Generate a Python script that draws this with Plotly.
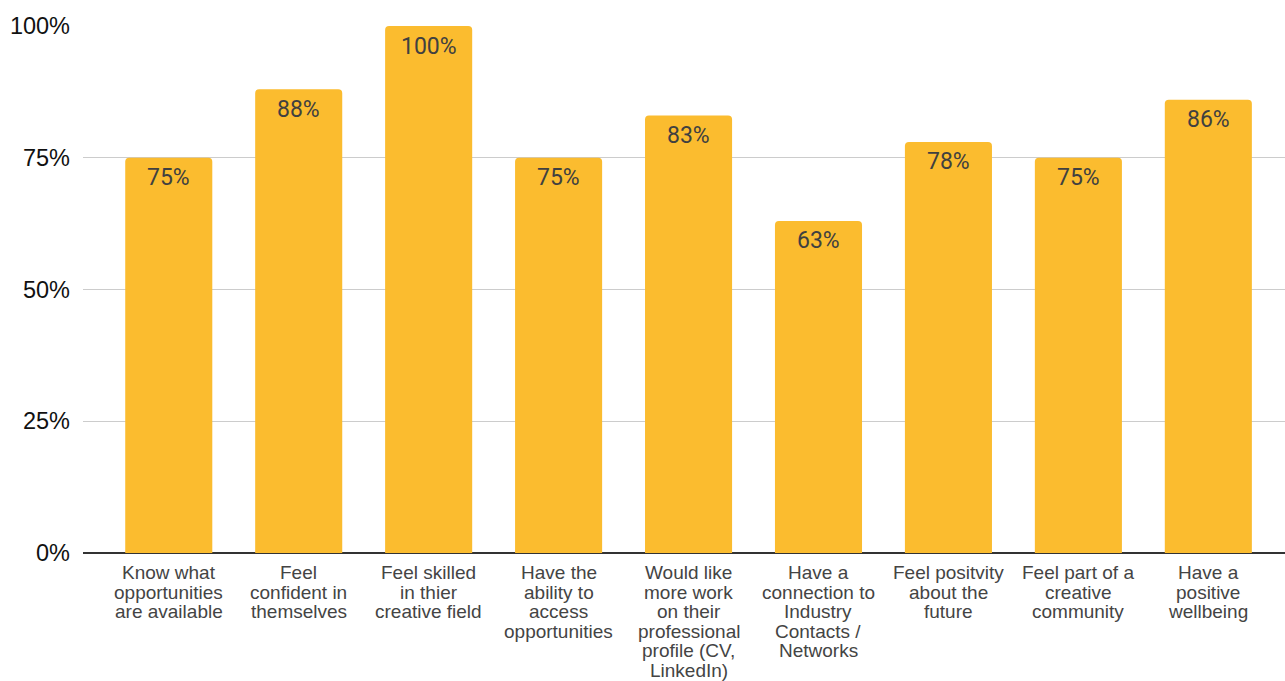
import plotly.graph_objects as go

categories = [
    "Know what<br>opportunities<br>are available",
    "Feel<br>confident in<br>themselves",
    "Feel skilled<br>in thier<br>creative field",
    "Have the<br>ability to<br>access<br>opportunities",
    "Would like<br>more work<br>on their<br>professional<br>profile (CV,<br>LinkedIn)",
    "Have a<br>connection to<br>Industry<br>Contacts /<br>Networks",
    "Feel positvity<br>about the<br>future",
    "Feel part of a<br>creative<br>community",
    "Have a<br>positive<br>wellbeing",
]
values = [75, 88, 100, 75, 83, 63, 78, 75, 86]
y_ticks = [0, 25, 50, 75, 100]
y_tick_labels = ["0%", "25%", "50%", "75%", "100%"]

BAR = "#FBBC2F"
xs = list(range(len(categories)))

fig = go.Figure()
fig.add_trace(go.Bar(
    x=xs,
    y=values,
    marker=dict(color=BAR, line=dict(width=0)),
    width=0.67,
    hoverinfo="skip",
))

# value labels inside bar tops
for i, v in enumerate(values):
    fig.add_annotation(
        x=i, y=v, text=f"{v}%", showarrow=False,
        yanchor="middle", yshift=-20,
        font=dict(family="Roboto, Arial, sans-serif", size=23, color="#404040"),
    )

# category labels, one annotation per line for tight line spacing
for i, cat in enumerate(categories):
    for k, line in enumerate(cat.split("<br>")):
        fig.add_annotation(
            x=i, xref="x", y=0, yref="paper", text=line, showarrow=False,
            yanchor="middle", yshift=-(19.5 + 19.6 * k),
            font=dict(family="Liberation Sans, Arial, sans-serif", size=19, color="#444444"),
        )

fig.update_layout(
    width=1285, height=681,
    margin=dict(l=83, r=0, t=26, b=128),
    paper_bgcolor="white", plot_bgcolor="white",
    showlegend=False,
    barcornerradius=4,
    xaxis=dict(
        range=[-0.66, 8.59],
        showgrid=False, zeroline=False,
        showline=False, showticklabels=False,
        ticks="", automargin=False,
    ),
    yaxis=dict(
        range=[0, 100],
        tickmode="array",
        tickvals=y_ticks,
        ticktext=y_tick_labels,
        showgrid=True, gridcolor="#CCCCCC", gridwidth=1,
        zeroline=True, zerolinecolor="#333333", zerolinewidth=2,
        showline=False,
        ticks="", automargin=False,
        ticklabelstandoff=12,
        tickfont=dict(family="Liberation Sans, Arial, sans-serif", size=23.5, color="#111111"),
    ),
)

fig.write_html(
    "out.html",
    config={"displayModeBar": False},
    post_script="document.body.style.margin='0';document.body.style.overflow='hidden';",
)
